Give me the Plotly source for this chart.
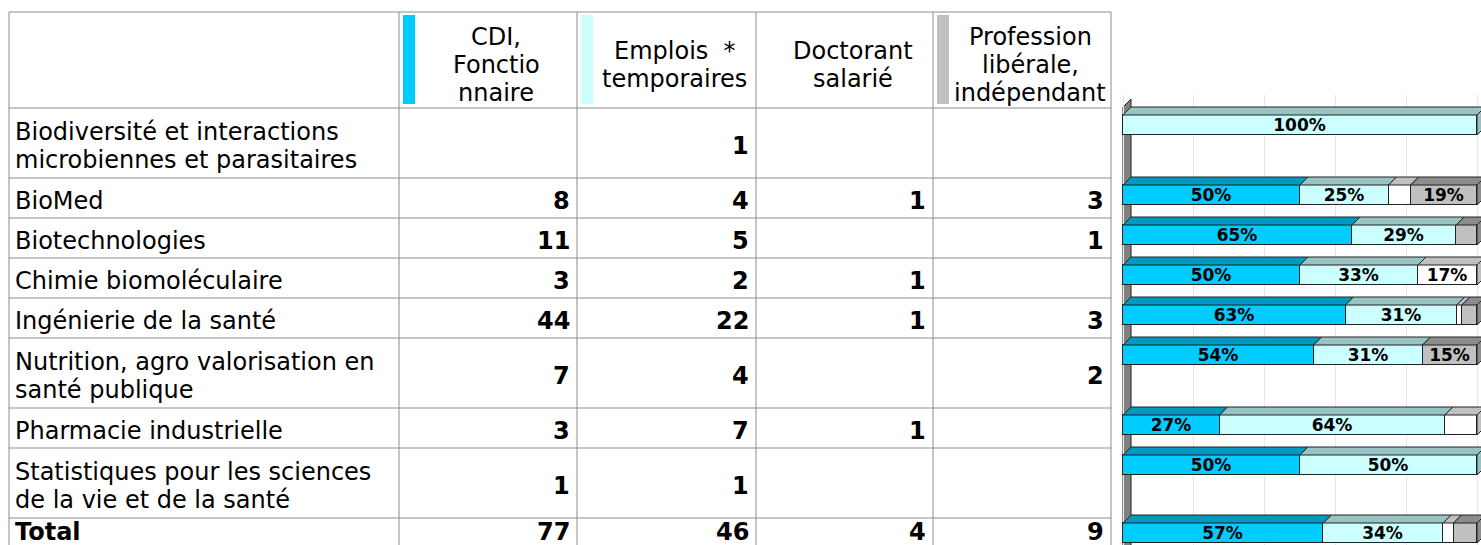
import plotly.graph_objects as go

# ---------------- data ----------------
categories = [
    "Biodiversité et interactions\nmicrobiennes et parasitaires",
    "BioMed",
    "Biotechnologies",
    "Chimie biomoléculaire",
    "Ingénierie de la santé",
    "Nutrition, agro valorisation en\nsanté publique",
    "Pharmacie industrielle",
    "Statistiques pour les sciences\nde la vie et de la santé",
    "Total",
]
cdi = [0, 8, 11, 3, 44, 7, 3, 1, 77]
emplois = [1, 4, 5, 2, 22, 4, 7, 1, 46]
doctorant = [0, 1, 0, 1, 1, 0, 1, 0, 4]
profession = [0, 3, 1, 0, 3, 2, 0, 0, 9]
series_headers = [
    "CDI,\nFonctio\nnnaire",
    "Emplois\u00a0 *\ntemporaires",
    "Doctorant\nsalarié",
    "Profession\nlibérale,\nindépendant",
]
front_colors = ["#00CCFF", "#CCFFFF", "#FFFFFF", "#C0C0C0"]
top_colors = ["#0099C0", "#99C2C2", "#C0C0C0", "#8C8C8C"]

series = [cdi, emplois, doctorant, profession]

# ---------------- layout constants ----------------
W, H = 1481, 545
FONT = "DejaVu Sans"
FS = 24
col_edges = [9, 399, 577, 756, 933, 1111]
table_top = 12
header_h = 96
line_gap = 28
strip_w = 12
grid_col = "#8c8c8c"


def px(x):
    return x / W


def py(y):
    return 1 - y / H


n_lines = [len(c.split("\n")) for c in categories]
row_h = [10 + 30 * n for n in n_lines]
row_tops = []
t = table_top + header_h
for h in row_h:
    row_tops.append(t)
    t += h
table_bottom = t

shapes = []
annotations = []

# table grid
hlines = [table_top, table_top + header_h] + row_tops[1:] + [table_bottom]
for y in hlines:
    shapes.append(dict(type="line", xref="paper", yref="paper",
                       x0=px(col_edges[0]), x1=px(col_edges[-1]), y0=py(y), y1=py(y),
                       line=dict(color=grid_col, width=1)))
for x in col_edges:
    shapes.append(dict(type="line", xref="paper", yref="paper",
                       x0=px(x), x1=px(x), y0=py(table_top), y1=py(table_bottom),
                       line=dict(color=grid_col, width=1)))

# header strips and texts
for j, hdr in enumerate(series_headers):
    cl, cr = col_edges[j + 1], col_edges[j + 2]
    if front_colors[j] != "#FFFFFF":
        shapes.append(dict(type="rect", xref="paper", yref="paper",
                           x0=px(cl + 4), x1=px(cl + 4 + strip_w),
                           y0=py(table_top + 3), y1=py(table_top + header_h - 4),
                           fillcolor=front_colors[j], line=dict(width=0)))
    lines = hdr.split("\n")
    cy = table_top + header_h / 2 + 5
    xc = (cl + 4 + strip_w + cr) / 2
    for k, ln in enumerate(lines):
        yy = cy + (k - (len(lines) - 1) / 2) * line_gap
        annotations.append(dict(xref="paper", yref="paper", x=px(xc), y=py(yy),
                                text=ln, showarrow=False, xanchor="center", yanchor="middle",
                                font=dict(family=FONT, size=FS, color="black")))

# row labels and values
for i, cat in enumerate(categories):
    is_total = cat == "Total"
    cy = row_tops[i] + row_h[i] / 2 + 3
    if is_total:
        cy = min(cy, H - 13)
    lines = cat.split("\n")
    for k, ln in enumerate(lines):
        yy = cy + (k - (len(lines) - 1) / 2) * line_gap
        txt = f"<b>{ln}</b>" if is_total else ln
        annotations.append(dict(xref="paper", yref="paper", x=px(col_edges[0] + 4), y=py(yy),
                                text=txt, showarrow=False, xanchor="left", yanchor="middle",
                                font=dict(family=FONT, size=FS, color="black")))
    for j, s in enumerate(series):
        v = s[i]
        if v:
            annotations.append(dict(xref="paper", yref="paper", x=px(col_edges[j + 2] - 5), y=py(cy),
                                    text=f"<b>{v}</b>", showarrow=False, xanchor="right",
                                    yanchor="middle",
                                    font=dict(family=FONT, size=FS, color="black")))

# ---------------- 3D-ish 100% stacked bars ----------------
totals = [sum(s[i] for s in series) for i in range(len(categories))]
shares = [[s[i] / totals[i] for i in range(len(categories))] for s in series]
bar_y = [rt + 17 for rt in row_tops]
bar_y[-1] = min(bar_y[-1], H - 12)
bar_w = 20
unit_px = 354.0
dx = 8 / unit_px
dy = 8
x_left_px = 1119
x0_px = 1123

fig = go.Figure()
for j, name in enumerate(series_headers):
    txt = [f"{round(p * 100)}%" if p >= 0.1 else "" for p in shares[j]]
    fig.add_trace(go.Bar(
        y=bar_y, x=shares[j], orientation="h", width=bar_w,
        name=name.replace("\n", " "),
        marker=dict(color=front_colors[j], line=dict(color="#222222", width=1)),
        text=txt, textposition="inside", insidetextanchor="middle",
        textangle=0, constraintext="none",
        textfont=dict(family=FONT, size=17, color="black", weight="bold"),
        xaxis="x", yaxis="y", showlegend=False, hoverinfo="skip",
    ))

# left wall
wall_top = row_tops[0] - 9
shapes.append(dict(type="path", xref="x", yref="y", layer="below",
                   path=f"M 0,{wall_top + dy} L {dx},{wall_top} L {dx},{H + 20} L 0,{H + 20} Z",
                   fillcolor="#808080", line=dict(color="#222222", width=1)))

# top and side faces
for i in range(len(categories)):
    yt = bar_y[i] - bar_w / 2
    yb = bar_y[i] + bar_w / 2
    cum = 0.0
    last = None
    for j in range(len(series)):
        p = shares[j][i]
        if p <= 0:
            continue
        a, b = cum, cum + p
        shapes.append(dict(type="path", xref="x", yref="y",
                           path=f"M {a},{yt} L {a + dx},{yt - dy} L {b + dx},{yt - dy} L {b},{yt} Z",
                           fillcolor=top_colors[j], line=dict(color="#222222", width=1)))
        cum = b
        last = j
    if last is not None:
        shapes.append(dict(type="path", xref="x", yref="y",
                           path=f"M {cum},{yt} L {cum + dx},{yt - dy} L {cum + dx},{yb - dy} L {cum},{yb} Z",
                           fillcolor=top_colors[last], line=dict(color="#222222", width=1)))

y_top_px = 95
fig.update_layout(
    width=W, height=H,
    margin=dict(l=0, r=0, t=0, b=0),
    paper_bgcolor="white", plot_bgcolor="rgba(0,0,0,0)",
    barmode="stack", bargap=0,
    shapes=shapes, annotations=annotations,
    xaxis=dict(domain=[x_left_px / W, 1],
               range=[-(x0_px - x_left_px) / unit_px, (W - x0_px) / unit_px],
               showgrid=True, gridcolor="#e6e6e6", gridwidth=1,
               tick0=0, dtick=0.2, showticklabels=False, zeroline=False, showline=False,
               fixedrange=True),
    yaxis=dict(domain=[0, (H - y_top_px) / H], range=[H, y_top_px],
               showgrid=False, showticklabels=False, zeroline=False, showline=False,
               fixedrange=True),
    font=dict(family=FONT),
)

fig.write_html("out.html", config={"displayModeBar": False},
               post_script="document.body.style.margin='0';document.body.style.overflow='hidden';")
